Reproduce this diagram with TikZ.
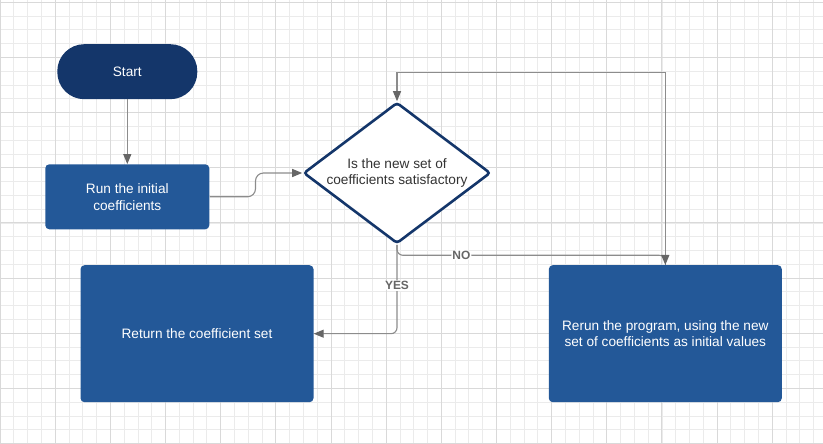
\documentclass[tikz,border=0pt]{standalone}
\usepackage{fontspec}
\setmainfont{Liberation Sans}
\usetikzlibrary{shapes.geometric,positioning,arrows.meta}

\definecolor{navy}{HTML}{14366A}
\definecolor{boxblue}{HTML}{235898}
\definecolor{wiregray}{HTML}{8C8C8C}
\definecolor{tipgray}{HTML}{666666}

\begin{document}
\begin{tikzpicture}[x=1bp,y=1bp,on grid,
    >={Triangle[length=10bp,width=8bp,color=tipgray]},
    box/.style={rectangle,fill=boxblue,rounded corners=4bp,text=white,align=center,
      font=\fontsize{13.7}{16.8}\selectfont},
    conn/.style={draw=wiregray,line width=1.1bp},
    lbl/.style={fill=white,inner sep=1bp,text=tipgray,font=\fontsize{12}{14}\bfseries}]
   \useasboundingbox (0,0) rectangle (823,444);
   % grid paper
   \foreach \i in {0,...,59} \draw[black!8,line width=0.8bp] (\i*13.79,0) -- (\i*13.79,444);
   \foreach \j in {0,...,32} \draw[black!8,line width=0.8bp] (0,441.7-\j*13.79) -- (823,441.7-\j*13.79);
   \foreach \i in {0,...,14} \draw[black!15,line width=0.9bp] (\i*55.16,0) -- (\i*55.16,444);
   \foreach \j in {0,...,8} \draw[black!15,line width=0.9bp] (0,441.7-\j*55.16) -- (823,441.7-\j*55.16);

   \node[box,fill=navy,rounded corners=27bp,minimum width=140bp,minimum height=55bp] (start) at (127.3,372.3) {Start};
   \node[box,minimum width=164bp,minimum height=65bp] (run) [below=125.1bp of start] {Run the initial\\coefficients};
   \node[diamond,draw=navy,line width=2.6bp,fill=white,rounded corners=3bp,aspect=1.32,inner sep=0pt,
     minimum width=187bp,minimum height=141bp,align=center,text=black!80,
     font=\fontsize{13.7}{16}\selectfont] (dec) [above right=23.8bp and 269.7bp of run]
     {Is the new set of\\coefficients satisfactory};
   \node[box,minimum width=233bp,minimum height=137bp] (ret) [below left=160.7bp and 200bp of dec]
     {Return the coefficient set};
   \node[box,minimum width=233bp,minimum height=137bp] (rerun) [below right=160.7bp and 268.3bp of dec]
     {Rerun the program, using the new\\set of coefficients as initial values};

   \draw[conn,->] (start) -- (run);
   \draw[conn,->,rounded corners=8bp] (run.east) -- ++(46bp,0) |- (dec.west);
   \draw[conn,->] (rerun.north) -- ++(0,192.5bp) -| (dec.north);
   \draw[conn,->,rounded corners=6bp] (dec.south) |- node[lbl,pos=0.23] {YES} (ret.east);
   \draw[conn,->,rounded corners=6bp] (dec.south) -- ++(0,-10.5bp) -| node[lbl,pos=0.12] {NO} (rerun.north);
\end{tikzpicture}
\end{document}
